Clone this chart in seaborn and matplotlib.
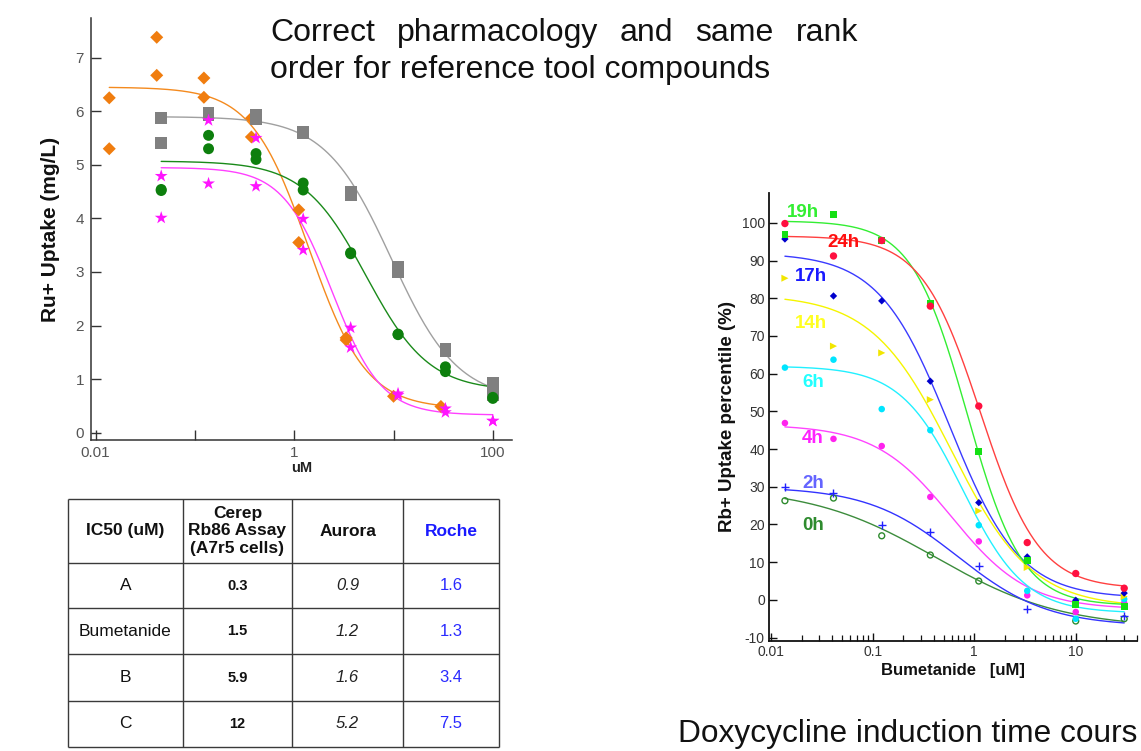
import numpy as np
import matplotlib
matplotlib.use("Agg")
import matplotlib.pyplot as plt
import seaborn as sns

# ---------------- left panel: Ru+ uptake (mg/L) vs concentration (uM) ----------------
# orange compound (diamonds), 3-fold dilution from 30 uM
orange_x = [0.0137, 0.0137, 0.0412, 0.0412, 0.123, 0.123, 0.370, 0.370,
            1.11, 1.11, 3.33, 3.33, 10.0, 30.0]
orange_y = [6.25, 5.30, 7.38, 6.67, 6.62, 6.26, 5.87, 5.52,
            4.16, 3.55, 1.77, 1.73, 0.68, 0.49]

# remaining compounds, 3-fold dilution from 100 uM, duplicates
dose_x = [0.0457, 0.0457, 0.137, 0.137, 0.412, 0.412, 1.23, 1.23,
          3.70, 3.70, 11.1, 11.1, 33.3, 33.3, 100.0, 100.0]
gray_y = [5.88, 5.41, 5.97, 5.93, 5.94, 5.85, 5.62, 5.60,
          4.49, 4.43, 3.10, 2.99, 1.56, 1.52, 0.93, 0.70]
green_y = [4.54, 4.52, 5.55, 5.30, 5.21, 5.10, 4.66, 4.53,
           3.36, 3.34, 1.84, 1.83, 1.23, 1.14, 0.64, 0.66]
magenta_y = [4.79, 4.01, 4.65, 5.83, 4.60, 5.50, 3.99, 3.41,
             1.96, 1.59, 0.73, 0.70, 0.45, 0.38, 0.22, 0.22]

# four-parameter logistic fits: top, bottom, IC50, Hill slope, fitted range
fit_orange = (6.45, 0.45, 1.40, 1.50, 0.0137, 30.0)
fit_gray = (5.90, 0.60, 9.50, 1.30, 0.0457, 100.0)
fit_green = (5.07, 0.78, 5.30, 1.37, 0.0457, 100.0)
fit_magenta = (4.95, 0.33, 2.40, 1.75, 0.0457, 100.0)

# ---------------- IC50 table ----------------
table_header = ["IC50 (uM)", "Cerep\nRb86 Assay\n(A7r5 cells)", "Aurora", "Roche"]
compounds = ["A", "Bumetanide", "B", "C"]
ic50_cerep = [0.3, 1.5, 5.9, 12]
ic50_aurora = [0.9, 1.2, 1.6, 5.2]
ic50_roche = [1.6, 1.3, 3.4, 7.5]

# ---------------- right panel: Rb+ uptake percentile vs bumetanide ----------------
bumetanide_uM = [0.0137, 0.0412, 0.123, 0.370, 1.11, 3.33, 10.0, 30.0]
nan = np.nan
uptake_0h = [26.3, 27.0, 17.0, 11.9, 5.0, nan, -5.6, -5.0]
uptake_2h = [30.0, 28.4, 19.8, 18.1, 9.1, -2.5, nan, -4.2]
uptake_4h = [46.9, 42.7, 40.8, 27.3, 15.5, 1.2, -3.2, -0.8]
uptake_6h = [61.6, 63.7, 50.6, 45.0, 19.8, 2.4, -5.0, 0.2]
uptake_14h = [85.3, 67.3, 65.5, 53.1, 23.6, 8.6, nan, 0.9]
uptake_17h = [95.7, 80.6, 79.3, 58.0, 25.8, 11.4, -0.1, 1.8]
uptake_19h = [96.9, 102.3, 95.4, 78.6, 39.4, 10.4, -1.3, -1.8]
uptake_24h = [99.8, 91.2, 95.3, 77.9, 51.4, 15.2, 7.0, 3.1]

time_labels = ["0h", "2h", "4h", "6h", "14h", "17h", "19h", "24h"]
# logistic fits per induction time: top, bottom, IC50, Hill slope
fits_time = [(30.0, -7.5, 0.42, 0.70),
             (30.0, -7.0, 0.69, 0.98),
             (46.5, -2.5, 0.60, 1.15),
             (62.0, -3.5, 0.77, 1.42),
             (81.0, -2.0, 0.60, 1.10),
             (92.0, 0.5, 0.57, 1.25),
             (100.5, -1.5, 0.85, 1.60),
             (96.5, 3.0, 1.15, 1.50)]


def logistic(x, top, bottom, ic50, hill):
    x = np.asarray(x, dtype=float)
    return bottom + (top - bottom) / (1.0 + (x / ic50) ** hill)


sns.set_theme(style="ticks")
plt.rcParams["font.family"] = ["Liberation Sans", "DejaVu Sans"]
plt.rcParams["axes.unicode_minus"] = False

W, H = 1141, 751
fig = plt.figure(figsize=(W / 100, H / 100), dpi=100)


def px_axes(left, top, right, bottom):
    return fig.add_axes([left / W, 1 - bottom / H, (right - left) / W, (bottom - top) / H])


# ======== left chart ========
axl = px_axes(91, 18, 512, 440)
axl.set_facecolor("none")
left_series = [
    (orange_x, orange_y, fit_orange, "#f07d0f", "#f48a1e", "D", 44),
    (dose_x, gray_y, fit_gray, "#808080", "#a0a0a0", "s", 72),
    (dose_x, green_y, fit_green, "#0d7f0d", "#1a8a1a", "o", 62),
    (dose_x, magenta_y, fit_magenta, "#ff14ff", "#ff40ff", "*", 95),
]
for xs, ys, fit, mcol, lcol, mk, sz in left_series:
    top, bottom, ic50, hill, xa, xb = fit
    xc = np.logspace(np.log10(xa), np.log10(xb), 200)
    sns.lineplot(x=xc, y=logistic(xc, top, bottom, ic50, hill), ax=axl,
                 color=lcol, lw=1.0, estimator=None, sort=False, zorder=2)
    sns.scatterplot(x=xs, y=ys, ax=axl, marker=mk, s=sz, color=mcol,
                    edgecolor="none", linewidth=0, zorder=3)

axl.set_xscale("log")
axl.set_xlim(0.00897, 156)
axl.set_ylim(-0.136, 7.74)
axl.set_xticks([0.01, 0.1, 1, 10, 100])
axl.set_xticklabels(["0.01", "", "1", "", "100"])
axl.xaxis.set_minor_locator(matplotlib.ticker.NullLocator())
axl.set_yticks(range(0, 8))
axl.tick_params(direction="in", length=7, width=1.0, color="#333333",
                labelsize=11, labelcolor="#555555")
axl.tick_params(axis="x", pad=4)
axl.tick_params(axis="y", pad=5)
for side in ("top", "right"):
    axl.spines[side].set_visible(False)
for side in ("left", "bottom"):
    axl.spines[side].set_color("#333333")
    axl.spines[side].set_linewidth(1.1)
axl.set_xlabel("uM", fontsize=10.5, fontweight="bold", labelpad=1, color="#222222")
axl.set_ylabel("Ru+ Uptake (mg/L)", fontsize=15, fontweight="bold", labelpad=11,
               color="#111111")

# ======== right chart ========
axr = px_axes(769, 193, 1137, 641)
axr.set_facecolor("none")
time_styles = [
    # marker, marker colour, line colour, label colour, size, filled
    ("o", "#2e8b2e", "#3c8c3c", "#2e8b2e", 18, False),
    ("+", "#2020ff", "#3333ff", "#6464ff", 30, True),
    ("o", "#ff22ee", "#ff44ff", "#ff22ff", 22, True),
    ("o", "#00e5ff", "#22f0ff", "#22ffff", 22, True),
    (">", "#f2e600", "#f5f500", "#ffff22", 26, True),
    ("D", "#0000cc", "#3a3aff", "#1a1aff", 14, True),
    ("s", "#14e014", "#33ee33", "#33ee33", 24, True),
    ("o", "#ff1040", "#ff4040", "#ff1010", 28, True),
]
time_values = [uptake_0h, uptake_2h, uptake_4h, uptake_6h,
               uptake_14h, uptake_17h, uptake_19h, uptake_24h]
# label anchors (left edge, vertical centre) in data units
label_anchor = [(0.0202, 19.7), (0.0202, 30.8), (0.0202, 42.8), (0.0202, 57.7),
                (0.0172, 73.3), (0.0172, 85.8), (0.0144, 102.8), (0.0356, 94.9)]

xc = np.logspace(np.log10(bumetanide_uM[0]), np.log10(bumetanide_uM[-1]), 200)
for vals, fit, style, lab, anchor in zip(time_values, fits_time, time_styles,
                                         time_labels, label_anchor):
    mk, mcol, lcol, tcol, sz, filled = style
    sns.lineplot(x=xc, y=logistic(xc, *fit), ax=axr, color=lcol, lw=1.0,
                 estimator=None, sort=False, zorder=2)
    if mk == "+":
        sns.scatterplot(x=bumetanide_uM, y=vals, ax=axr, marker=mk, s=sz,
                        color=mcol, linewidth=1.0, zorder=3)
    elif filled:
        sns.scatterplot(x=bumetanide_uM, y=vals, ax=axr, marker=mk, s=sz,
                        color=mcol, edgecolor="none", linewidth=0, zorder=3)
    else:
        sns.scatterplot(x=bumetanide_uM, y=vals, ax=axr, marker=mk, s=sz,
                        facecolor="none", edgecolor=mcol, linewidth=1.0, zorder=3)
    axr.text(anchor[0], anchor[1], lab, color=tcol, fontsize=13.5,
             fontweight="bold", ha="left", va="center", zorder=4)

axr.set_xscale("log")
axr.set_xlim(0.00955, 40.1)
axr.set_ylim(-10.9, 107.9)
axr.set_xticks([0.01, 0.1, 1, 10])
axr.set_xticklabels(["0.01", "0.1", "1", "10"])
axr.xaxis.set_minor_locator(matplotlib.ticker.LogLocator(base=10, subs=np.arange(2, 10)))
axr.xaxis.set_minor_formatter(matplotlib.ticker.NullFormatter())
axr.set_yticks(range(-10, 101, 10))
axr.tick_params(which="major", direction="in", length=6, width=1.0, color="#111111",
                labelsize=10, labelcolor="#333333", pad=3)
axr.tick_params(which="minor", direction="in", length=4, width=0.9, color="#111111")
for side in ("top", "right"):
    axr.spines[side].set_visible(False)
for side in ("left", "bottom"):
    axr.spines[side].set_color("#111111")
    axr.spines[side].set_linewidth(1.3)
axr.set_xlabel("Bumetanide   [uM]", fontsize=12, fontweight="bold", labelpad=3,
               color="#111111")
axr.set_ylabel("Rb+ Uptake percentile (%)", fontsize=13.5, fontweight="bold",
               labelpad=4, color="#111111")

# ======== page overlay: heading, table, caption ========
ov = fig.add_axes([0, 0, 1, 1], zorder=10)
ov.set_xlim(0, W)
ov.set_ylim(H, 0)
ov.axis("off")
ov.patch.set_alpha(0)

heading_words = ["Correct", "pharmacology", "and", "same", "rank"]
word_texts = [ov.text(0, 41, w, fontsize=23, ha="left", va="baseline", color="#111111")
              for w in heading_words]
ov.text(270, 78, "order for reference tool compounds", fontsize=23, ha="left",
        va="baseline", color="#111111")
ov.text(678, 742, "Doxycycline induction time cours", fontsize=22.8, ha="left",
        va="baseline", color="#111111")

# table grid
col_edges = [68, 183, 292, 403, 499]
row_edges = [499, 563, 608, 654, 701, 747]
for x in col_edges:
    ov.plot([x, x], [row_edges[0], row_edges[-1]], color="#3a3a3a", lw=1.0,
            solid_capstyle="butt")
for y in row_edges:
    ov.plot([col_edges[0], col_edges[-1]], [y, y], color="#3a3a3a", lw=1.0,
            solid_capstyle="butt")

centres_x = [(a + b) / 2 for a, b in zip(col_edges[:-1], col_edges[1:])]
centres_y = [(a + b) / 2 for a, b in zip(row_edges[:-1], row_edges[1:])]
header_colors = ["#111111", "#111111", "#111111", "#1a1aff"]
for cx, txt, col in zip(centres_x, table_header, header_colors):
    ov.text(cx, centres_y[0], txt, fontsize=12.5, fontweight="bold", color=col,
            ha="center", va="center", linespacing=1.2)
for i, name in enumerate(compounds):
    cy = centres_y[i + 1]
    ov.text(centres_x[0], cy, name, fontsize=12.5, color="#111111",
            ha="center", va="center")
    ov.text(centres_x[1], cy, f"{ic50_cerep[i]:g}", fontsize=10.5, fontweight="bold",
            color="#111111", ha="center", va="center")
    ov.text(centres_x[2], cy, f"{ic50_aurora[i]:g}", fontsize=12, fontstyle="italic",
            color="#222222", ha="center", va="center")
    ov.text(centres_x[3], cy, f"{ic50_roche[i]:g}", fontsize=12, color="#2a2aff",
            ha="center", va="center")

# justify the first heading line between x=270 and x=858
fig.canvas.draw()
renderer = fig.canvas.get_renderer()
widths = [t.get_window_extent(renderer).width for t in word_texts]
x_start, x_end = 270, 858
gap = (x_end - x_start - sum(widths)) / (len(heading_words) - 1)
pos = x_start
for t, w in zip(word_texts, widths):
    t.set_x(pos)
    pos += w + gap

fig.savefig("out.png", dpi=100)
